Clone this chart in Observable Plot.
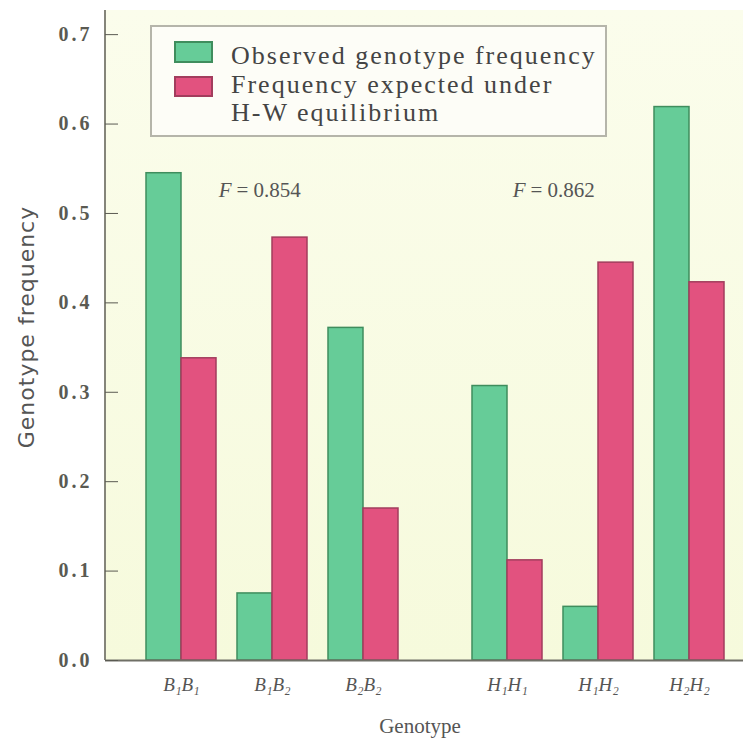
<!DOCTYPE html>
<html><head><meta charset="utf-8">
<script src="https://cdn.jsdelivr.net/npm/d3@7"></script>
<script src="https://cdn.jsdelivr.net/npm/@observablehq/plot@0.6"></script>
<style>
body{margin:0;background:#fff;}
#wrap{position:relative;width:743px;height:748px;overflow:hidden;}
#wrap svg{display:block;background-color:#fff !important;
  background-image:linear-gradient(#85857a,#85857a),linear-gradient(#fbfdec,#f6fadc) !important;
  background-size:2px 650px,638px 650px !important;
  background-position:104px 10px,105px 10px !important;
  background-repeat:no-repeat !important;}
#wrap svg [aria-label="y-axis tick label"] text{letter-spacing:3px;}
#legend{position:absolute;left:150px;top:25px;width:457px;height:112px;border:2px solid #b5b5aa;background:#fdfdf7;box-sizing:border-box;font-family:"Liberation Serif",serif;font-size:26px;color:#444;}
#legend .sw{position:absolute;left:22px;width:39px;box-sizing:border-box;}
#legend .tx{position:absolute;left:79px;line-height:26px;white-space:nowrap;letter-spacing:2px;}
#ylab{position:absolute;left:26px;top:327px;transform:translate(-50%,-50%) rotate(-90deg);white-space:nowrap;font-family:"DejaVu Sans",sans-serif;font-size:22px;letter-spacing:1px;color:#555;}
#xlab{position:absolute;left:105px;width:630px;top:714px;text-align:center;font-family:"Liberation Serif",serif;font-size:21px;color:#555;}
</style>
</head><body>
<div id="wrap"><div id="chart"></div><div id="legend"></div><div id="ylab"></div><div id="xlab"></div></div>
<script>
// ---- data ----
const genotypes = ["B₁B₁","B₁B₂","B₂B₂","H₁H₁","H₁H₂","H₂H₂"];
const loci = ["B","B","B","H","H","H"];
const genotypeClass = ["11","12","22","11","12","22"];
const observed = [0.545,0.075,0.372,0.307,0.060,0.619];
const expected = [0.338,0.473,0.170,0.112,0.445,0.423];
const seriesLabels = ["Observed genotype frequency","Frequency expected under","H-W equilibrium"];
const fLoci = ["B","H"];
const fValues = ["0.854","0.862"];
const yTicks = [0,0.1,0.2,0.3,0.4,0.5,0.6,0.7];
const yTitle = "Genotype frequency";
const xTitle = "Genotype";

const green = "#66cc98", greenEdge = "#3f8d5d";
const pink = "#e2527f", pinkEdge = "#a23d5d";

const rows = genotypes.map((g,i)=>({genotype:g, locus:loci[i], cls:genotypeClass[i], observed:observed[i], expected:expected[i]}));
const fRows = fLoci.map((l,i)=>({locus:l, value:fValues[i]}));

const serif = "Liberation Serif, serif";
const fAnn = (locus, dx) => [
  Plot.text(fRows.filter(d=>d.locus===locus), {fx:"locus", x:()=>"12", y:()=>0.526, text:()=>"F", textAnchor:"end", dx:dx-5, fontStyle:"italic", fontFamily:serif, fontSize:21, fill:"#555"}),
  Plot.text(fRows.filter(d=>d.locus===locus), {fx:"locus", x:()=>"12", y:()=>0.526, text:d=>"= "+d.value, textAnchor:"start", dx:dx, fontFamily:serif, fontSize:21, fill:"#555"})
];

const chart = Plot.plot({
  width:743, height:748,
  marginLeft:105, marginRight:8, marginTop:10, marginBottom:88,
  fx:{domain:fLoci, paddingInner:0.07, paddingOuter:0, axis:null},
  x:{domain:["11","12","22"], paddingInner:0.23, paddingOuter:0.27, align:0.8, axis:null},
  y:{domain:[0,0.727], axis:null},
  marks:[
    Plot.barY(rows, {fx:"locus", x:"cls", y:"observed", fill:green, stroke:greenEdge, strokeWidth:1.5, insetRight:35}),
    Plot.barY(rows, {fx:"locus", x:"cls", y:"expected", fill:pink, stroke:pinkEdge, strokeWidth:1.5, insetLeft:35}),
    Plot.ruleY([0], {stroke:"#6f6f66", strokeWidth:2, insetRight:-23}),
    Plot.axisY(yTicks, {tickFormat:d3.format(".1f"), tickSize:13, dx:13, tickPadding:13, fontSize:20, fontFamily:serif, fontWeight:"bold", color:"#5a5a52", label:null}),
    Plot.text(rows, {fx:"locus", x:"cls", text:"genotype", frameAnchor:"bottom", dy:30, fontStyle:"italic", fontFamily:serif, fontSize:19, fill:"#555"}),
    ...fAnn("B", -36),
    ...fAnn("H", -68)
  ]
});
document.getElementById("chart").appendChild(chart);

document.getElementById("ylab").textContent = yTitle;
document.getElementById("xlab").textContent = xTitle;

// legend
const lg = document.getElementById("legend");
lg.innerHTML = `
<div class="sw" style="top:14px;height:22px;background:${green};border:2px solid ${greenEdge}"></div>
<div class="tx" style="top:16px">${seriesLabels[0]}</div>
<div class="sw" style="top:49px;height:21px;background:${pink};border:2px solid ${pinkEdge}"></div>
<div class="tx" style="top:45px">${seriesLabels[1]}</div>
<div class="tx" style="top:73px">${seriesLabels[2]}</div>`;
</script>
</body></html>
